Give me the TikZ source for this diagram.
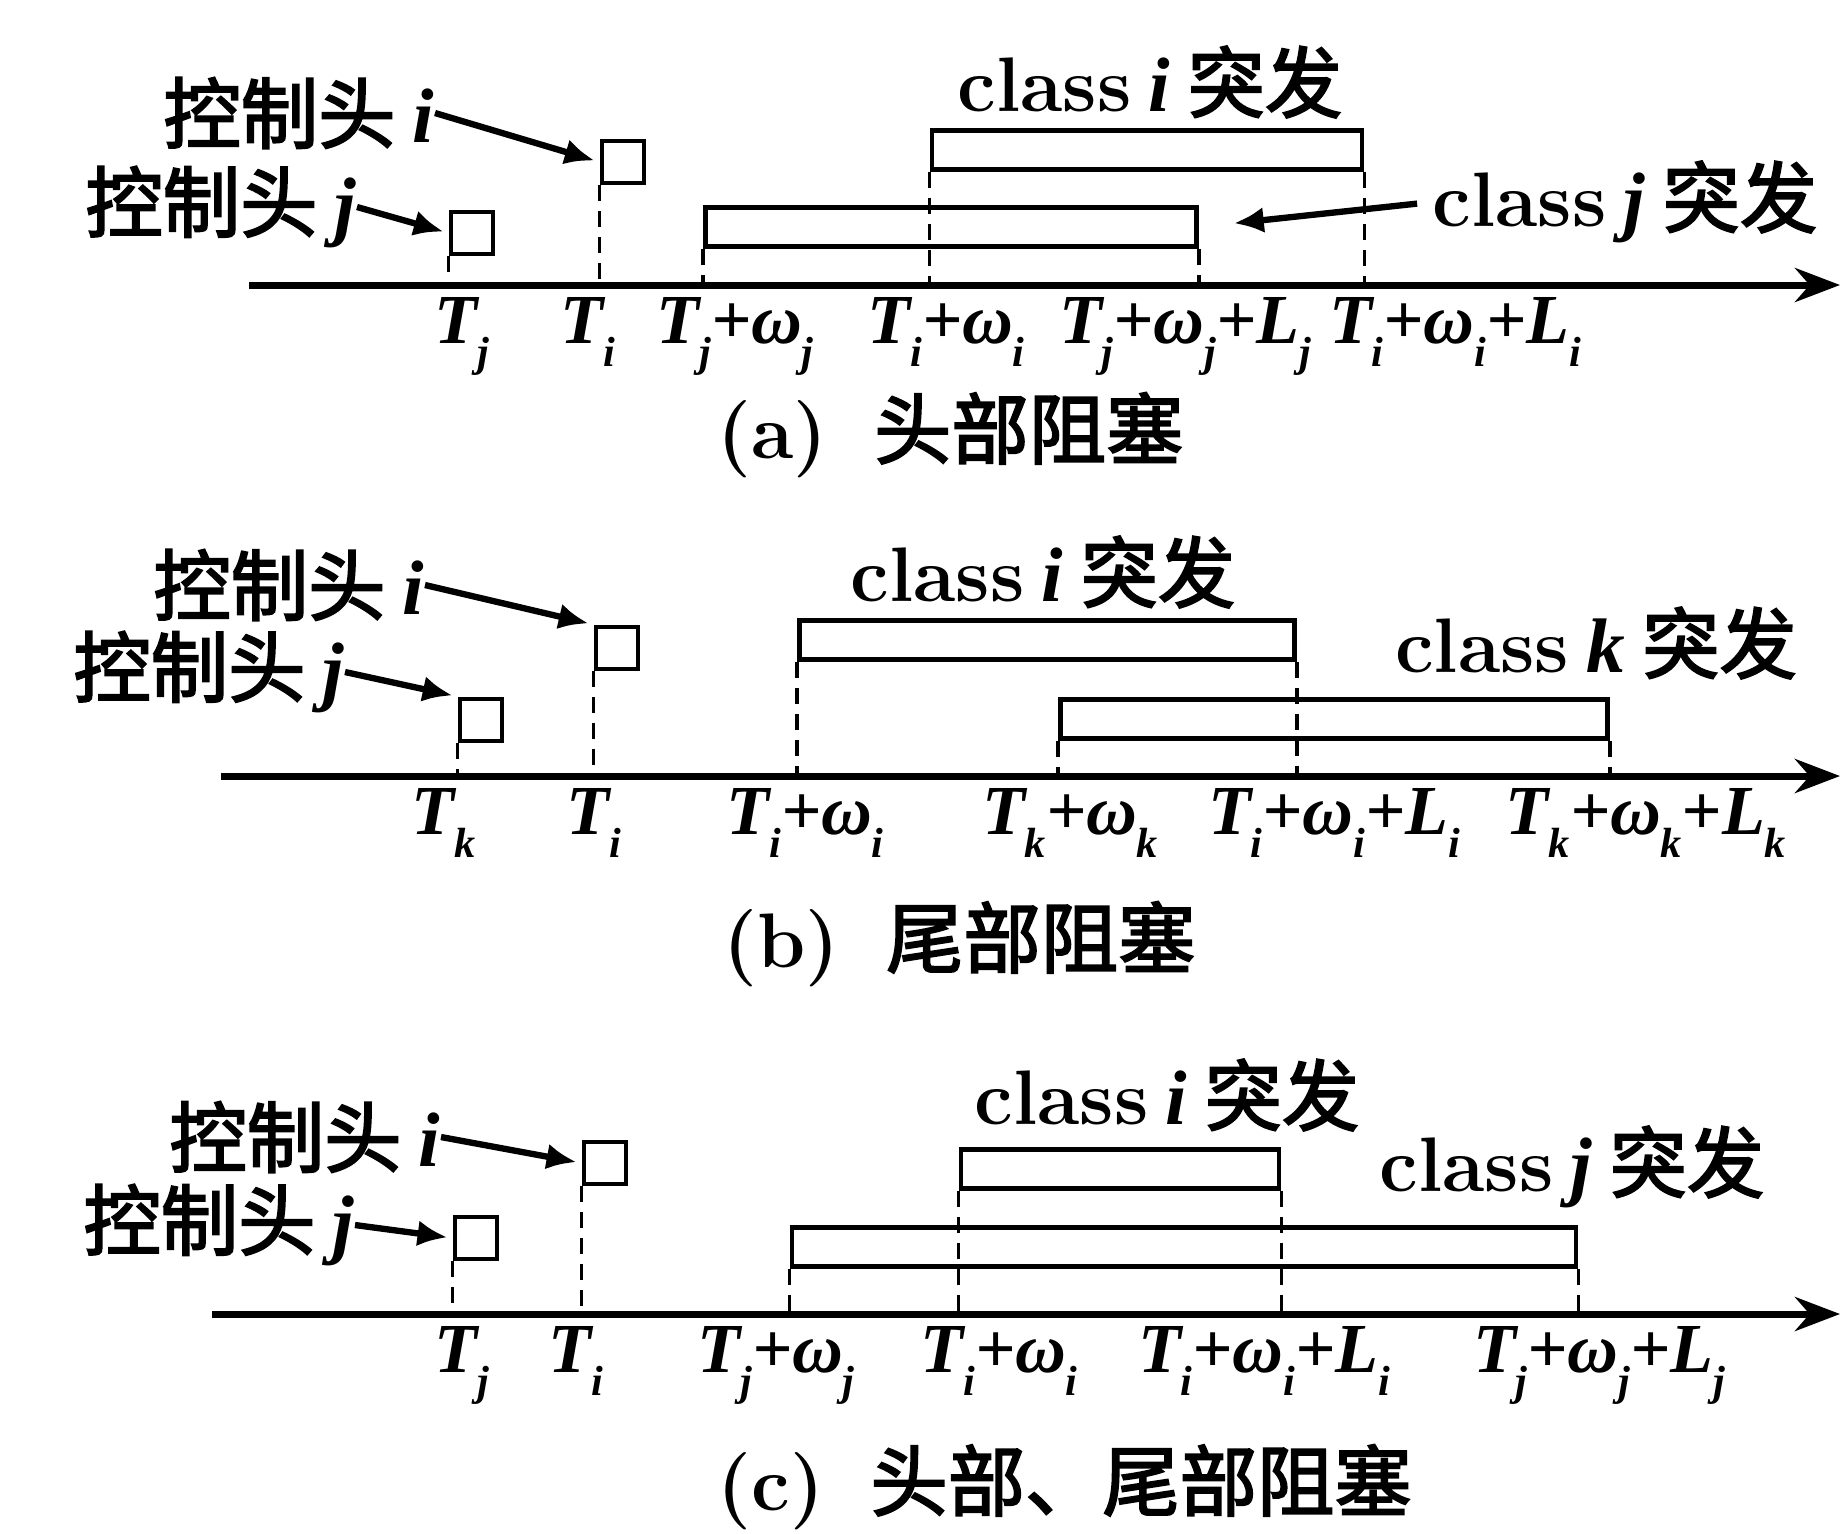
\documentclass[tikz,border=0pt]{standalone}
\usepackage{fontspec}
\newfontfamily\cjk[AutoFakeBold=2.5]{Noto Sans CJK SC}
\newfontfamily\lbfont{Liberation Serif}
\usetikzlibrary{arrows.meta}
\newcommand{\lo}[1]{\raisebox{-0.32em}{\fontsize{12}{12}\selectfont #1}}

\begin{document}
\begin{tikzpicture}[x=0.1mm,y=-0.1mm,
	hdr/.style={draw,line width=1.4pt,minimum size=4.2mm,inner sep=0},
	burst/.style={draw,line width=1.4pt,minimum height=3.9mm,inner sep=0},
	axis/.style={line width=2pt,-{Stealth[length=4.5mm,width=3.4mm]}},
	guide/.style={line width=1pt,dash pattern=on 1.6mm off 1mm},
	ptr/.style={line width=1.8pt,-{Latex[length=3mm,width=2.6mm]},shorten >=0.5mm},
	txt/.style={font=\cjk\bfseries\fontsize{22}{26}\selectfont,inner sep=0},
	tlbl/.style={font=\lbfont\bfseries\itshape\fontsize{20}{24}\selectfont,anchor=north,inner sep=0}]
	\useasboundingbox (0,0) rectangle (1843,1533);
	% (a)
	\coordinate (a0) at (249,285);
	\coordinate (a1) at (1840,285);
	\draw[axis] (a0) -- (a1);
	\node[hdr] (ahi) at (623,162) {};
	\node[hdr] (ahj) at (472,233) {};
	\node[txt,anchor=east] (ali) at (435,113) {控制头 {\lbfont\itshape i}};
	\node[txt,anchor=east] (alj) at (357,207) {控制头 {\lbfont\itshape j}};
	\draw[ptr] (ali.east) -- (ahi.west);
	\draw[ptr] (alj.east) -- (ahj.west);
	\node[burst,minimum width=49.1mm] (abj) at (951,227) {};
	\node[burst,minimum width=43mm] (abi) at (1147,150) {};
	\node[txt] (aci) at (1150,82) {{\rmfamily\bfseries class} {\lbfont\itshape i} 突发};
	\node[txt] (acj) at (1625,202) {{\rmfamily\bfseries class} {\lbfont\itshape j} 突发};
	\draw[ptr,shorten <=1.5mm,shorten >=3.5mm] (acj.west) -- (abj.east);
	\draw[guide] (ahi.south west) -- (ahi.south west |- a0);
	\draw[guide] (ahj.south west) -- (ahj.south west |- a0);
	\draw[guide] (abi.south west) -- (abi.south west |- a0);
	\draw[guide] (abi.south east) -- (abi.south east |- a0);
	\draw[guide] (abj.south west) -- (abj.south west |- a0);
	\draw[guide] (abj.south east) -- (abj.south east |- a0);
	\node[tlbl] (at1) at (462,297) {T\lo{j}};
	\node[tlbl] (at2) at (588,297) {T\lo{i}};
	\node[tlbl] (at3) at (735,297) {T\lo{j}+ω\lo{j}};
	\node[tlbl] (at4) at (946,297) {T\lo{i}+ω\lo{i}};
	\node[tlbl] (at5) at (1185,297) {T\lo{j}+ω\lo{j}+L\lo{j}};
	\node[tlbl] (at6) at (1455,297) {T\lo{i}+ω\lo{i}+L\lo{i}};
	\node[txt,anchor=west] (acap) at (717,435) {{\rmfamily\bfseries (a)}\hspace{0.6em}头部阻塞};
	% (b)
	\coordinate (b0) at (221,776);
	\coordinate (b1) at (1840,776);
	\draw[axis] (b0) -- (b1);
	\node[hdr] (bhi) at (617,648) {};
	\node[hdr] (bhj) at (481,720) {};
	\node[txt,anchor=east] (bli) at (425,585) {控制头 {\lbfont\itshape i}};
	\node[txt,anchor=east] (blj) at (345,672) {控制头 {\lbfont\itshape j}};
	\draw[ptr] (bli.east) -- (bhi.north west);
	\draw[ptr] (blj.east) -- (bhj.north west);
	\node[burst,minimum width=49.5mm] (bbi) at (1047,640) {};
	\node[burst,minimum width=54.7mm] (bbk) at (1334,719) {};
	\node[txt] (bci) at (1043,572) {{\rmfamily\bfseries class} {\lbfont\itshape i} 突发};
	\node[txt] (bck) at (1596,643) {{\rmfamily\bfseries class} {\lbfont\itshape k} 突发};
	\draw[guide] (bhi.south west) -- (bhi.south west |- b0);
	\draw[guide] (bhj.south west) -- (bhj.south west |- b0);
	\draw[guide] (bbi.south west) -- (bbi.south west |- b0);
	\draw[guide] (bbi.south east) -- (bbi.south east |- b0);
	\draw[guide] (bbk.south west) -- (bbk.south west |- b0);
	\draw[guide] (bbk.south east) -- (bbk.south east |- b0);
	\node[tlbl] (bt1) at (444,788) {T\lo{k}};
	\node[tlbl] (bt2) at (594,788) {T\lo{i}};
	\node[tlbl] (bt3) at (805,788) {T\lo{i}+ω\lo{i}};
	\node[tlbl] (bt4) at (1070,788) {T\lo{k}+ω\lo{k}};
	\node[tlbl] (bt5) at (1334,788) {T\lo{i}+ω\lo{i}+L\lo{i}};
	\node[tlbl] (bt6) at (1646,788) {T\lo{k}+ω\lo{k}+L\lo{k}};
	\node[txt,anchor=west] (bcap) at (723,944) {{\rmfamily\bfseries (b)}\hspace{0.6em}尾部阻塞};
	% (c)
	\coordinate (c0) at (212,1314);
	\coordinate (c1) at (1840,1314);
	\draw[axis] (c0) -- (c1);
	\node[hdr] (chi) at (605,1163) {};
	\node[hdr] (chj) at (476,1238) {};
	\node[txt,anchor=east] (cli) at (441,1137) {控制头 {\lbfont\itshape i}};
	\node[txt,anchor=east] (clj) at (355,1225) {控制头 {\lbfont\itshape j}};
	\draw[ptr] (cli.east) -- (chi.west);
	\draw[ptr] (clj.east) -- (chj.west);
	\node[burst,minimum width=31.8mm] (cbi) at (1120,1169) {};
	\node[burst,minimum width=78.4mm] (cbj) at (1184,1247) {};
	\node[txt] (cci) at (1167,1095) {{\rmfamily\bfseries class} {\lbfont\itshape i} 突发};
	\node[txt] (ccj) at (1572,1167) {{\rmfamily\bfseries class} {\lbfont\itshape j} 突发};
	\draw[guide] (chi.south west) -- (chi.south west |- c0);
	\draw[guide] (chj.south west) -- (chj.south west |- c0);
	\draw[guide] (cbi.south west) -- (cbi.south west |- c0);
	\draw[guide] (cbi.south east) -- (cbi.south east |- c0);
	\draw[guide] (cbj.south west) -- (cbj.south west |- c0);
	\draw[guide] (cbj.south east) -- (cbj.south east |- c0);
	\node[tlbl] (ct1) at (462,1326) {T\lo{j}};
	\node[tlbl] (ct2) at (576,1326) {T\lo{i}};
	\node[tlbl] (ct3) at (776,1326) {T\lo{j}+ω\lo{j}};
	\node[tlbl] (ct4) at (999,1326) {T\lo{i}+ω\lo{i}};
	\node[tlbl] (ct5) at (1264,1326) {T\lo{i}+ω\lo{i}+L\lo{i}};
	\node[tlbl] (ct6) at (1599,1326) {T\lo{j}+ω\lo{j}+L\lo{j}};
	\node[txt,anchor=west] (ccap) at (717,1487) {{\rmfamily\bfseries (c)}\hspace{0.6em}头部、尾部阻塞};
\end{tikzpicture}
\end{document}
